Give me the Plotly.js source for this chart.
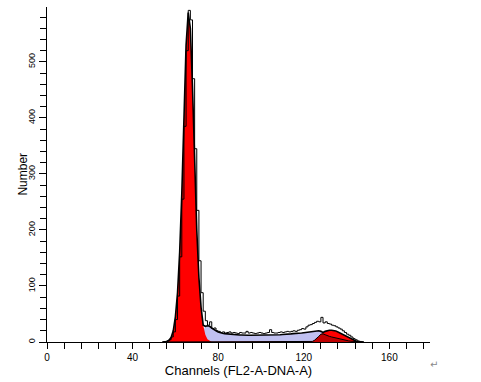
<!DOCTYPE html>
<html>
<head>
<meta charset="utf-8">
<script src="https://cdn.plot.ly/plotly-3.0.1.min.js"></script>
<style>html,body{margin:0;padding:0;background:#fff;}#chart{width:481px;height:382px;}</style>
</head>
<body>
<div id="chart"></div>
<script>
// Channels 54..148
const channels = [];
for (let c = 54; c <= 148; c++) channels.push(c);

// Raw histogram (Number per channel)
const dataCounts = [
  0, 1, 2, 4, 9, 18, 40, 82, 152, 255,          // 54-63
  385, 520, 592, 575, 470, 345, 235, 145, 88, 55, // 64-73
  38, 30, 36, 24, 25, 20, 19, 17, 18, 16,        // 74-83
  17, 18, 16, 17, 16, 15, 17, 16, 16, 19,        // 84-93
  16, 17, 16, 15, 16, 17, 16, 15, 16, 17,        // 94-103
  22, 17, 16, 16, 17, 18, 17, 18, 19, 18,        // 104-113
  19, 20, 19, 21, 22, 24, 23, 27, 30, 31,        // 114-123
  33, 35, 37, 36, 44, 34, 36, 33, 32, 30,        // 124-133
  29, 27, 25, 23, 20, 17, 14, 12, 9, 6,          // 134-143
  4, 2, 1, 0, 0                                  // 144-148
];

// G1 fitted peak
const g1Fit = [
  0, 0.5, 1, 3, 8, 20, 45, 88, 160, 265,          // 54-63
  400, 530, 588, 560, 455, 320, 200, 115, 62, 30,  // 64-73
  13, 5, 2, 0, 0, 0, 0, 0, 0, 0,                   // 74-83
  0, 0, 0, 0, 0, 0, 0, 0, 0, 0,                    // 84-93
  0, 0, 0, 0, 0, 0, 0, 0, 0, 0,                    // 94-103
  0, 0, 0, 0, 0, 0, 0, 0, 0, 0,                    // 104-113
  0, 0, 0, 0, 0, 0, 0, 0, 0, 0,                    // 114-123
  0, 0, 0, 0, 0, 0, 0, 0, 0, 0,                    // 124-133
  0, 0, 0, 0, 0, 0, 0, 0, 0, 0,                    // 134-143
  0, 0, 0, 0, 0                                    // 144-148
];

// S-phase fitted component
const sPhase = [
  0, 0, 0, 0, 0, 0, 0, 0, 0, 0,                    // 54-63
  0, 0, 0, 0, 0, 0, 0, 2, 8, 20,                   // 64-73
  28, 29, 28, 25, 22, 20, 18, 16.5, 15.5, 15,      // 74-83
  14.5, 14, 13.5, 13, 13, 12.5, 12.5, 12.5, 12, 12, // 84-93
  12, 12, 12, 12, 12, 12, 12, 12, 12, 12.5,        // 94-103
  12.5, 12.5, 12.5, 13, 13, 13, 13.5, 13.5, 14, 14, // 104-113
  14.5, 15, 15, 15.5, 15.5, 16, 16.5, 17, 17.5, 18, // 114-123
  19, 19.5, 20, 20, 19, 14.5, 13, 11, 10, 9,       // 124-133
  8, 7, 6, 5, 4, 3, 2.5, 2, 1.5, 1,                // 134-143
  0.5, 0, 0, 0, 0                                  // 144-148
];

// G2 fitted peak
const g2Fit = [
  0, 0, 0, 0, 0, 0, 0, 0, 0, 0,                    // 54-63
  0, 0, 0, 0, 0, 0, 0, 0, 0, 0,                    // 64-73
  0, 0, 0, 0, 0, 0, 0, 0, 0, 0,                    // 74-83
  0, 0, 0, 0, 0, 0, 0, 0, 0, 0,                    // 84-93
  0, 0, 0, 0, 0, 0, 0, 0, 0, 0,                    // 94-103
  0, 0, 0, 0, 0, 0, 0, 0, 0, 0,                    // 104-113
  0, 0, 0, 0, 0, 0, 0, 0, 0, 0,                    // 114-123
  1, 3, 6, 10, 14, 17, 19, 20.5, 21, 21,           // 124-133
  20.5, 19.5, 18, 16, 14, 11.5, 9, 7, 5, 3,        // 134-143
  1.5, 0.5, 0, 0, 0                                // 144-148
];

// overlap of S-phase and G2 (drawn darker)
const overlap = sPhase.map((v, i) => Math.min(v, g2Fit[i]));
// model envelope line
const modelLine = channels.map((c, i) => Math.max(g1Fit[i], sPhase[i], g2Fit[i]));

const FONT = 'Liberation Sans, Arial, sans-serif';

const traces = [
  {x: channels, y: sPhase, type: 'scatter', mode: 'lines', fill: 'tozeroy',
   fillcolor: 'rgb(192,192,240)', line: {width: 0, color: 'rgb(192,192,240)'}, hoverinfo: 'skip'},
  {x: channels, y: g1Fit, type: 'scatter', mode: 'lines', fill: 'tozeroy',
   fillcolor: '#ff0000', line: {width: 0, color: '#ff0000'}, hoverinfo: 'skip'},
  {x: channels, y: g2Fit, type: 'scatter', mode: 'lines', fill: 'tozeroy',
   fillcolor: '#ff0000', line: {width: 0, color: '#ff0000'}, hoverinfo: 'skip'},
  {x: channels, y: overlap, type: 'scatter', mode: 'lines', fill: 'tozeroy',
   fillcolor: '#c00000', line: {width: 0, color: '#c00000'}, hoverinfo: 'skip'},
  {x: channels, y: overlap, type: 'scatter', mode: 'lines',
   line: {width: 1, color: '#000'}, hoverinfo: 'skip'},
  {x: channels, y: modelLine, type: 'scatter', mode: 'lines',
   line: {width: 1.6, color: '#000'}, hoverinfo: 'skip'},
  {x: channels, y: dataCounts, type: 'scatter', mode: 'lines',
   line: {width: 1, color: '#000', shape: 'hv'}, hoverinfo: 'skip'}
];

const layout = {
  width: 481, height: 382,
  margin: {l: 47, r: 51, t: 7, b: 40, pad: 0},
  paper_bgcolor: '#fff', plot_bgcolor: '#fff',
  showlegend: false,
  font: {family: FONT, color: '#000'},
  xaxis: {
    range: [0, 179], showgrid: false, zeroline: false,
    showline: true, linecolor: '#000', linewidth: 1,
    ticks: 'outside', ticklen: 6, tickcolor: '#000', tickwidth: 1,
    tick0: 0, dtick: 40,
    minor: {dtick: 8, tick0: 0, ticks: 'outside', ticklen: 6, tickcolor: '#000', tickwidth: 1, showgrid: false},
    tickfont: {family: FONT, size: 10, color: '#000'},
    title: {text: 'Channels (FL2-A-DNA-A)', font: {family: FONT, size: 13, color: '#000'}, standoff: 3}
  },
  yaxis: {
    range: [0, 598], showgrid: false, zeroline: false,
    showline: true, linecolor: '#000', linewidth: 1,
    ticks: 'outside', ticklen: 7, tickcolor: '#000', tickwidth: 1,
    tick0: 0, dtick: 100, tickangle: -90,
    minor: {dtick: 20, tick0: 0, ticks: 'outside', ticklen: 6, tickcolor: '#000', tickwidth: 1, showgrid: false},
    tickfont: {family: FONT, size: 9, color: '#000'},
    title: {text: ''}
  },
  annotations: [
    {xref: 'paper', yref: 'paper', x: -0.065, y: 0.5, showarrow: false, textangle: -90,
     xanchor: 'center', yanchor: 'middle',
     text: 'Number', font: {family: FONT, size: 12, color: '#000'}},
    {xref: 'paper', yref: 'paper', x: 1.026, y: -0.09, showarrow: false,
     text: '\u21B5', font: {family: 'DejaVu Sans', size: 10, color: '#888'}}
  ]
};

Plotly.newPlot('chart', traces, layout, {staticPlot: true, displayModeBar: false});
</script>
</body>
</html>
